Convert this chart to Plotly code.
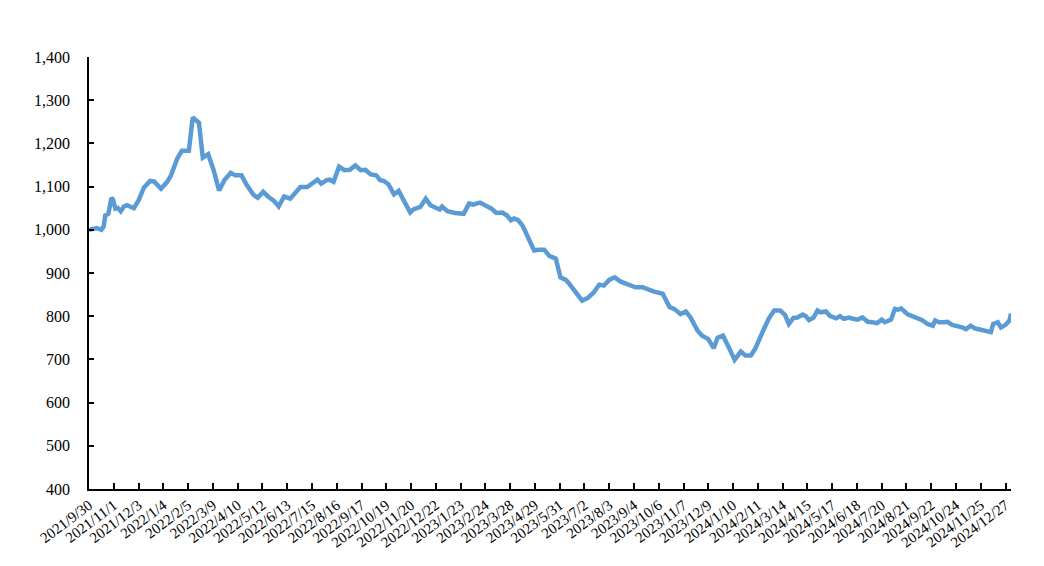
import pandas as pd
import plotly.graph_objects as go

# weekly index, 2021/9/30 = 1000
dates = [
    "2021-09-30", "2021-10-10", "2021-10-16", "2021-10-19", "2021-10-21", "2021-10-25",
    "2021-10-29", "2021-10-31", "2021-11-03", "2021-11-06", "2021-11-10", "2021-11-14",
    "2021-11-18", "2021-11-27", "2021-12-03", "2021-12-10", "2021-12-18", "2021-12-23",
    "2022-01-01", "2022-01-09", "2022-01-14", "2022-01-22", "2022-01-28", "2022-02-06",
    "2022-02-11", "2022-02-19", "2022-02-24", "2022-03-03", "2022-03-10", "2022-03-17",
    "2022-03-24", "2022-04-01", "2022-04-07", "2022-04-15", "2022-04-22", "2022-05-01",
    "2022-05-06", "2022-05-13", "2022-05-20", "2022-05-27", "2022-06-02", "2022-06-09",
    "2022-06-17", "2022-06-30", "2022-07-09", "2022-07-16", "2022-07-22", "2022-07-27",
    "2022-08-03", "2022-08-07", "2022-08-12", "2022-08-19", "2022-08-26", "2022-09-02",
    "2022-09-09", "2022-09-16", "2022-09-22", "2022-09-29", "2022-10-06", "2022-10-11",
    "2022-10-16", "2022-10-22", "2022-10-29", "2022-11-04", "2022-11-11", "2022-11-19",
    "2022-11-23", "2022-12-02", "2022-12-09", "2022-12-15", "2022-12-22", "2022-12-27",
    "2022-12-30", "2023-01-06", "2023-01-16", "2023-01-27", "2023-02-03", "2023-02-08",
    "2023-02-17", "2023-02-26", "2023-03-04", "2023-03-10", "2023-03-18", "2023-03-24",
    "2023-03-29", "2023-04-02", "2023-04-07", "2023-04-13", "2023-04-19", "2023-04-28",
    "2023-05-04", "2023-05-11", "2023-05-18", "2023-05-26", "2023-06-01", "2023-06-08",
    "2023-06-12", "2023-06-21", "2023-06-29", "2023-07-06", "2023-07-14", "2023-07-21",
    "2023-07-27", "2023-08-03", "2023-08-10", "2023-08-18", "2023-08-26", "2023-09-06",
    "2023-09-15", "2023-09-21", "2023-09-30", "2023-10-11", "2023-10-15", "2023-10-20",
    "2023-10-26", "2023-11-03", "2023-11-10", "2023-11-16", "2023-11-25", "2023-12-01",
    "2023-12-09", "2023-12-16", "2023-12-21", "2023-12-28", "2024-01-05", "2024-01-12",
    "2024-01-20", "2024-01-26", "2024-02-02", "2024-02-08", "2024-02-17", "2024-02-25",
    "2024-03-03", "2024-03-11", "2024-03-17", "2024-03-22", "2024-03-28", "2024-04-02",
    "2024-04-09", "2024-04-13", "2024-04-17", "2024-04-23", "2024-04-28", "2024-05-02",
    "2024-05-09", "2024-05-14", "2024-05-22", "2024-05-27", "2024-06-01", "2024-06-08",
    "2024-06-13", "2024-06-19", "2024-06-25", "2024-07-02", "2024-07-08", "2024-07-14",
    "2024-07-20", "2024-07-24", "2024-08-01", "2024-08-06", "2024-08-10", "2024-08-14",
    "2024-08-22", "2024-08-29", "2024-09-04", "2024-09-11", "2024-09-17", "2024-09-24",
    "2024-09-27", "2024-10-02", "2024-10-09", "2024-10-13", "2024-10-19", "2024-10-26",
    "2024-11-01", "2024-11-06", "2024-11-12", "2024-11-17", "2024-11-24", "2024-11-30",
    "2024-12-08", "2024-12-11", "2024-12-17", "2024-12-21", "2024-12-27", "2025-01-01",
    "2025-01-03",
]

values = [
    1000, 1004, 1000, 1008, 1033, 1037,
    1074, 1070, 1049, 1051, 1043, 1054,
    1057, 1050, 1068, 1098, 1113, 1112,
    1095, 1111, 1126, 1165, 1183, 1183,
    1260, 1248, 1167, 1175, 1138, 1091,
    1115, 1132, 1126, 1126, 1103, 1080,
    1074, 1088, 1076, 1067, 1054, 1077,
    1072, 1099, 1099, 1107, 1116, 1107,
    1115, 1116, 1111, 1146, 1138, 1139,
    1149, 1138, 1139, 1128, 1126, 1115,
    1113, 1105, 1082, 1090, 1064, 1040,
    1047, 1053, 1072, 1057, 1051, 1047,
    1054, 1043, 1039, 1037, 1061, 1058,
    1063, 1054, 1049, 1039, 1040, 1033,
    1022, 1026, 1023, 1010, 987, 952,
    954, 954, 939, 933, 890, 884,
    876, 855, 836, 842, 855, 873,
    871, 884, 890, 880, 875, 867,
    867, 862, 857, 852, 840, 821,
    817, 805, 811, 797, 767, 755,
    747, 726, 750, 755, 726, 699,
    718, 709, 709, 726, 763, 794,
    813, 813, 803, 782, 796, 797,
    804, 800, 791, 797, 813, 809,
    811, 801, 795, 800, 794, 797,
    794, 792, 797, 787, 786, 784,
    792, 786, 792, 817, 815, 818,
    805, 800, 797, 790, 782, 778,
    790, 786, 786, 787, 780, 778,
    774, 770, 778, 772, 769, 767,
    763, 782, 786, 774, 780, 790,
    806,
]

tick_labels = [
    "2021/9/30", "2021/11/1", "2021/12/3", "2022/1/4", "2022/2/5", "2022/3/9",
    "2022/4/10", "2022/5/12", "2022/6/13", "2022/7/15", "2022/8/16", "2022/9/17",
    "2022/10/19", "2022/11/20", "2022/12/22", "2023/1/23", "2023/2/24", "2023/3/28",
    "2023/4/29", "2023/5/31", "2023/7/2", "2023/8/3", "2023/9/4", "2023/10/6",
    "2023/11/7", "2023/12/9", "2024/1/10", "2024/2/11", "2024/3/14", "2024/4/15",
    "2024/5/17", "2024/6/18", "2024/7/20", "2024/8/21", "2024/9/22", "2024/10/24",
    "2024/11/25", "2024/12/27",
]

x = pd.to_datetime(dates)
tick_vals = pd.to_datetime(tick_labels, format="%Y/%m/%d")

fig = go.Figure()
fig.add_trace(go.Scatter(
    x=x, y=values, mode="lines",
    line=dict(color="#5B9BD5", width=4.5),
    showlegend=False,
))

axis_font = dict(family="Liberation Serif, Times New Roman, serif", size=16, color="black")

# page body has an 8px margin, so the plot box is pulled back by 8px
fig.update_layout(
    width=1044, height=566,
    margin=dict(l=81, r=41, t=49, b=85),
    plot_bgcolor="white", paper_bgcolor="white",
    font=axis_font,
)
fig.update_xaxes(
    type="date",
    range=[x[0], x[-1]],
    tickvals=tick_vals, ticktext=tick_labels,
    tickangle=-37,
    tickfont=dict(size=15),
    automargin=False,
    showgrid=False, zeroline=False,
    showline=True, linecolor="black", linewidth=1.5,
    ticks="inside", ticklen=6, tickcolor="black", tickwidth=1.5,
)
fig.update_yaxes(
    range=[400, 1400], dtick=100, tickformat=",",
    automargin=False,
    ticklabelstandoff=14,
    showgrid=False, zeroline=False,
    showline=True, linecolor="black", linewidth=1.5,
    ticks="inside", ticklen=5, tickcolor="black", tickwidth=1.5,
)

fig.write_html("out.html")
